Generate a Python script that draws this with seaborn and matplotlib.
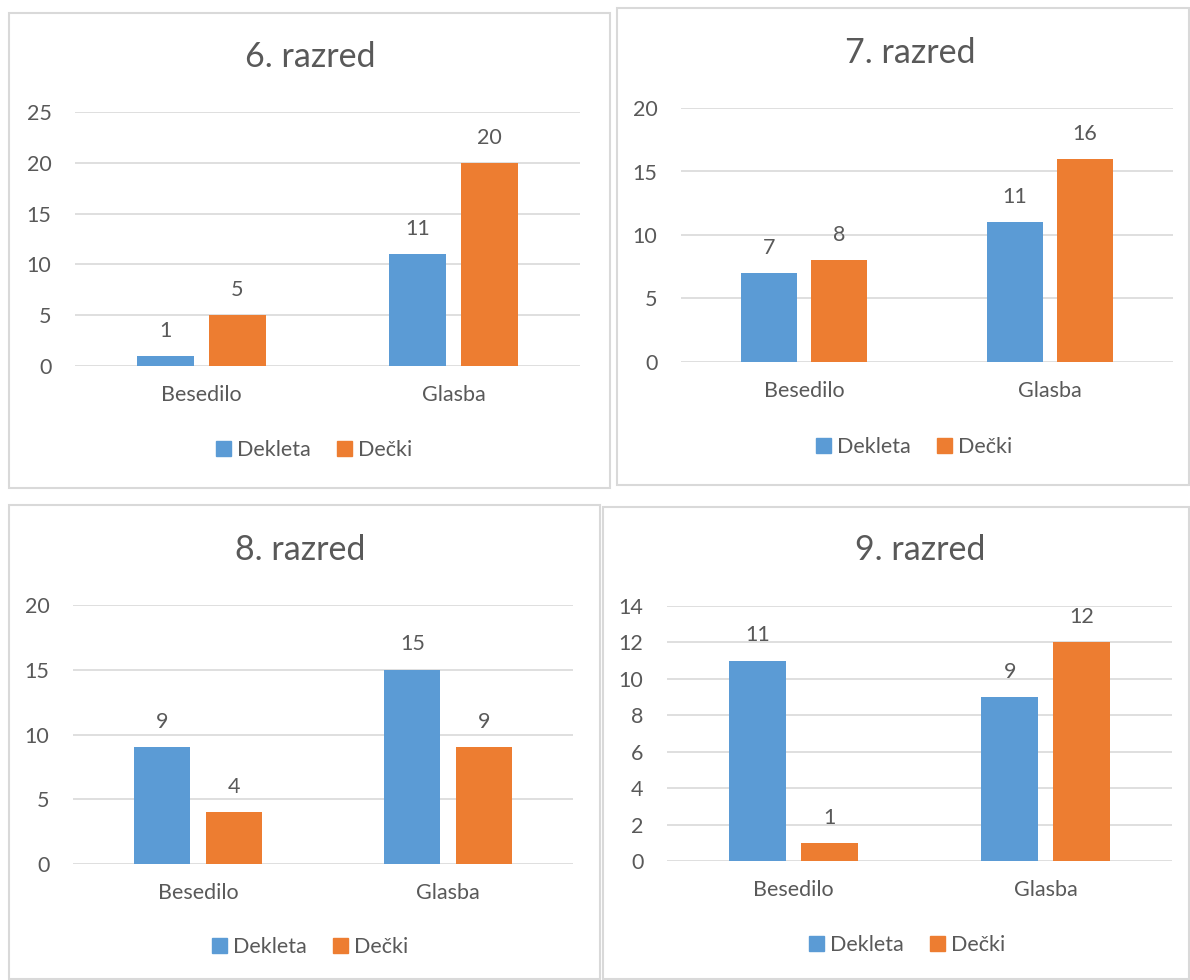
import matplotlib
matplotlib.use("Agg")
import matplotlib.pyplot as plt
import seaborn as sns
import pandas as pd
from matplotlib.patches import Patch, Rectangle

# ---------------- data ----------------
categories = ["Besedilo", "Glasba"]
series = ["Dekleta", "Dečki"]
titles = ["6. razred", "7. razred", "8. razred", "9. razred"]
dekleta_6 = [1, 11]
decki_6 = [5, 20]
dekleta_7 = [7, 11]
decki_7 = [8, 16]
dekleta_8 = [9, 15]
decki_8 = [4, 9]
dekleta_9 = [11, 9]
decki_9 = [1, 12]
yticks_6 = [0, 5, 10, 15, 20, 25]
yticks_7 = [0, 5, 10, 15, 20]
yticks_8 = [0, 5, 10, 15, 20]
yticks_9 = [0, 2, 4, 6, 8, 10, 12, 14]

colors = ["#5B9BD5", "#ED7D31"]
TXT = "#595959"
GRID = "#D9D9D9"

sns.set_theme(style="white")
plt.rcParams["font.family"] = ["Lato", "DejaVu Sans"]

W, H = 1190, 980
fig = plt.figure(figsize=(W / 100, H / 100), dpi=100)

FS = 15.5


def fr(l, t, r, b):
    return [l / W, 1 - b / H, (r - l) / W, (b - t) / H]


panels = [
    dict(d=dekleta_6, m=decki_6, yt=yticks_6, title=titles[0],
         border=(9, 13, 610, 488), plot=(75, 112, 580, 366),
         title_xy=(310, 57), leg_xy=(314, 450)),
    dict(d=dekleta_7, m=decki_7, yt=yticks_7, title=titles[1],
         border=(617, 8, 1189, 485), plot=(681, 108, 1173, 362),
         title_xy=(910, 53), leg_xy=(914, 447)),
    dict(d=dekleta_8, m=decki_8, yt=yticks_8, title=titles[2],
         border=(9, 505, 600, 979), plot=(73, 605, 573, 864),
         title_xy=(300, 550), leg_xy=(310, 947)),
    dict(d=dekleta_9, m=decki_9, yt=yticks_9, title=titles[3],
         border=(603, 507, 1189, 979), plot=(667, 606, 1172, 861),
         title_xy=(920, 550), leg_xy=(907, 945)),
]

for p in panels:
    l, t, r, b = p["border"]
    fig.add_artist(Rectangle((l / W, 1 - b / H), (r - l) / W, (b - t) / H,
                             transform=fig.transFigure, fill=False,
                             edgecolor=GRID, lw=1.5))
    ax = fig.add_axes(fr(*p["plot"]))
    df = pd.DataFrame({
        "cat": categories * 2,
        "val": p["d"] + p["m"],
        "ser": [series[0]] * 2 + [series[1]] * 2,
    })
    sns.barplot(data=df, x="cat", y="val", hue="ser", hue_order=series,
                order=categories, palette=colors, width=0.571, gap=0.213,
                ax=ax, legend=False, saturation=1, linewidth=0)
    for c in ax.containers:
        ax.bar_label(c, padding=11, fontsize=FS, color=TXT)
    ax.set_xlim(-0.5, 1.5)
    ax.set_ylim(0, p["yt"][-1])
    ax.set_yticks(p["yt"])
    ax.set_xlabel("")
    ax.set_ylabel("")
    for s in ax.spines.values():
        s.set_visible(False)
    ax.yaxis.grid(True, color=GRID, lw=1.2)
    ax.set_axisbelow(True)
    ax.tick_params(axis="y", length=0, pad=17, labelsize=FS, labelcolor=TXT)
    ax.tick_params(axis="x", length=0, pad=14, labelsize=FS, labelcolor=TXT)
    fig.text(p["title_xy"][0] / W, 1 - p["title_xy"][1] / H, p["title"],
             ha="center", va="center", fontsize=24.5, color=TXT)
    handles = [Patch(color=colors[i], label=series[i]) for i in range(2)]
    fig.legend(handles=handles, loc="center",
               bbox_to_anchor=(p["leg_xy"][0] / W, 1 - p["leg_xy"][1] / H),
               ncol=2, frameon=False, fontsize=FS, labelcolor=TXT,
               handlelength=0.7, handleheight=0.7, handletextpad=0.3,
               columnspacing=1.2)

fig.savefig("out.png", dpi=100, facecolor="white")
